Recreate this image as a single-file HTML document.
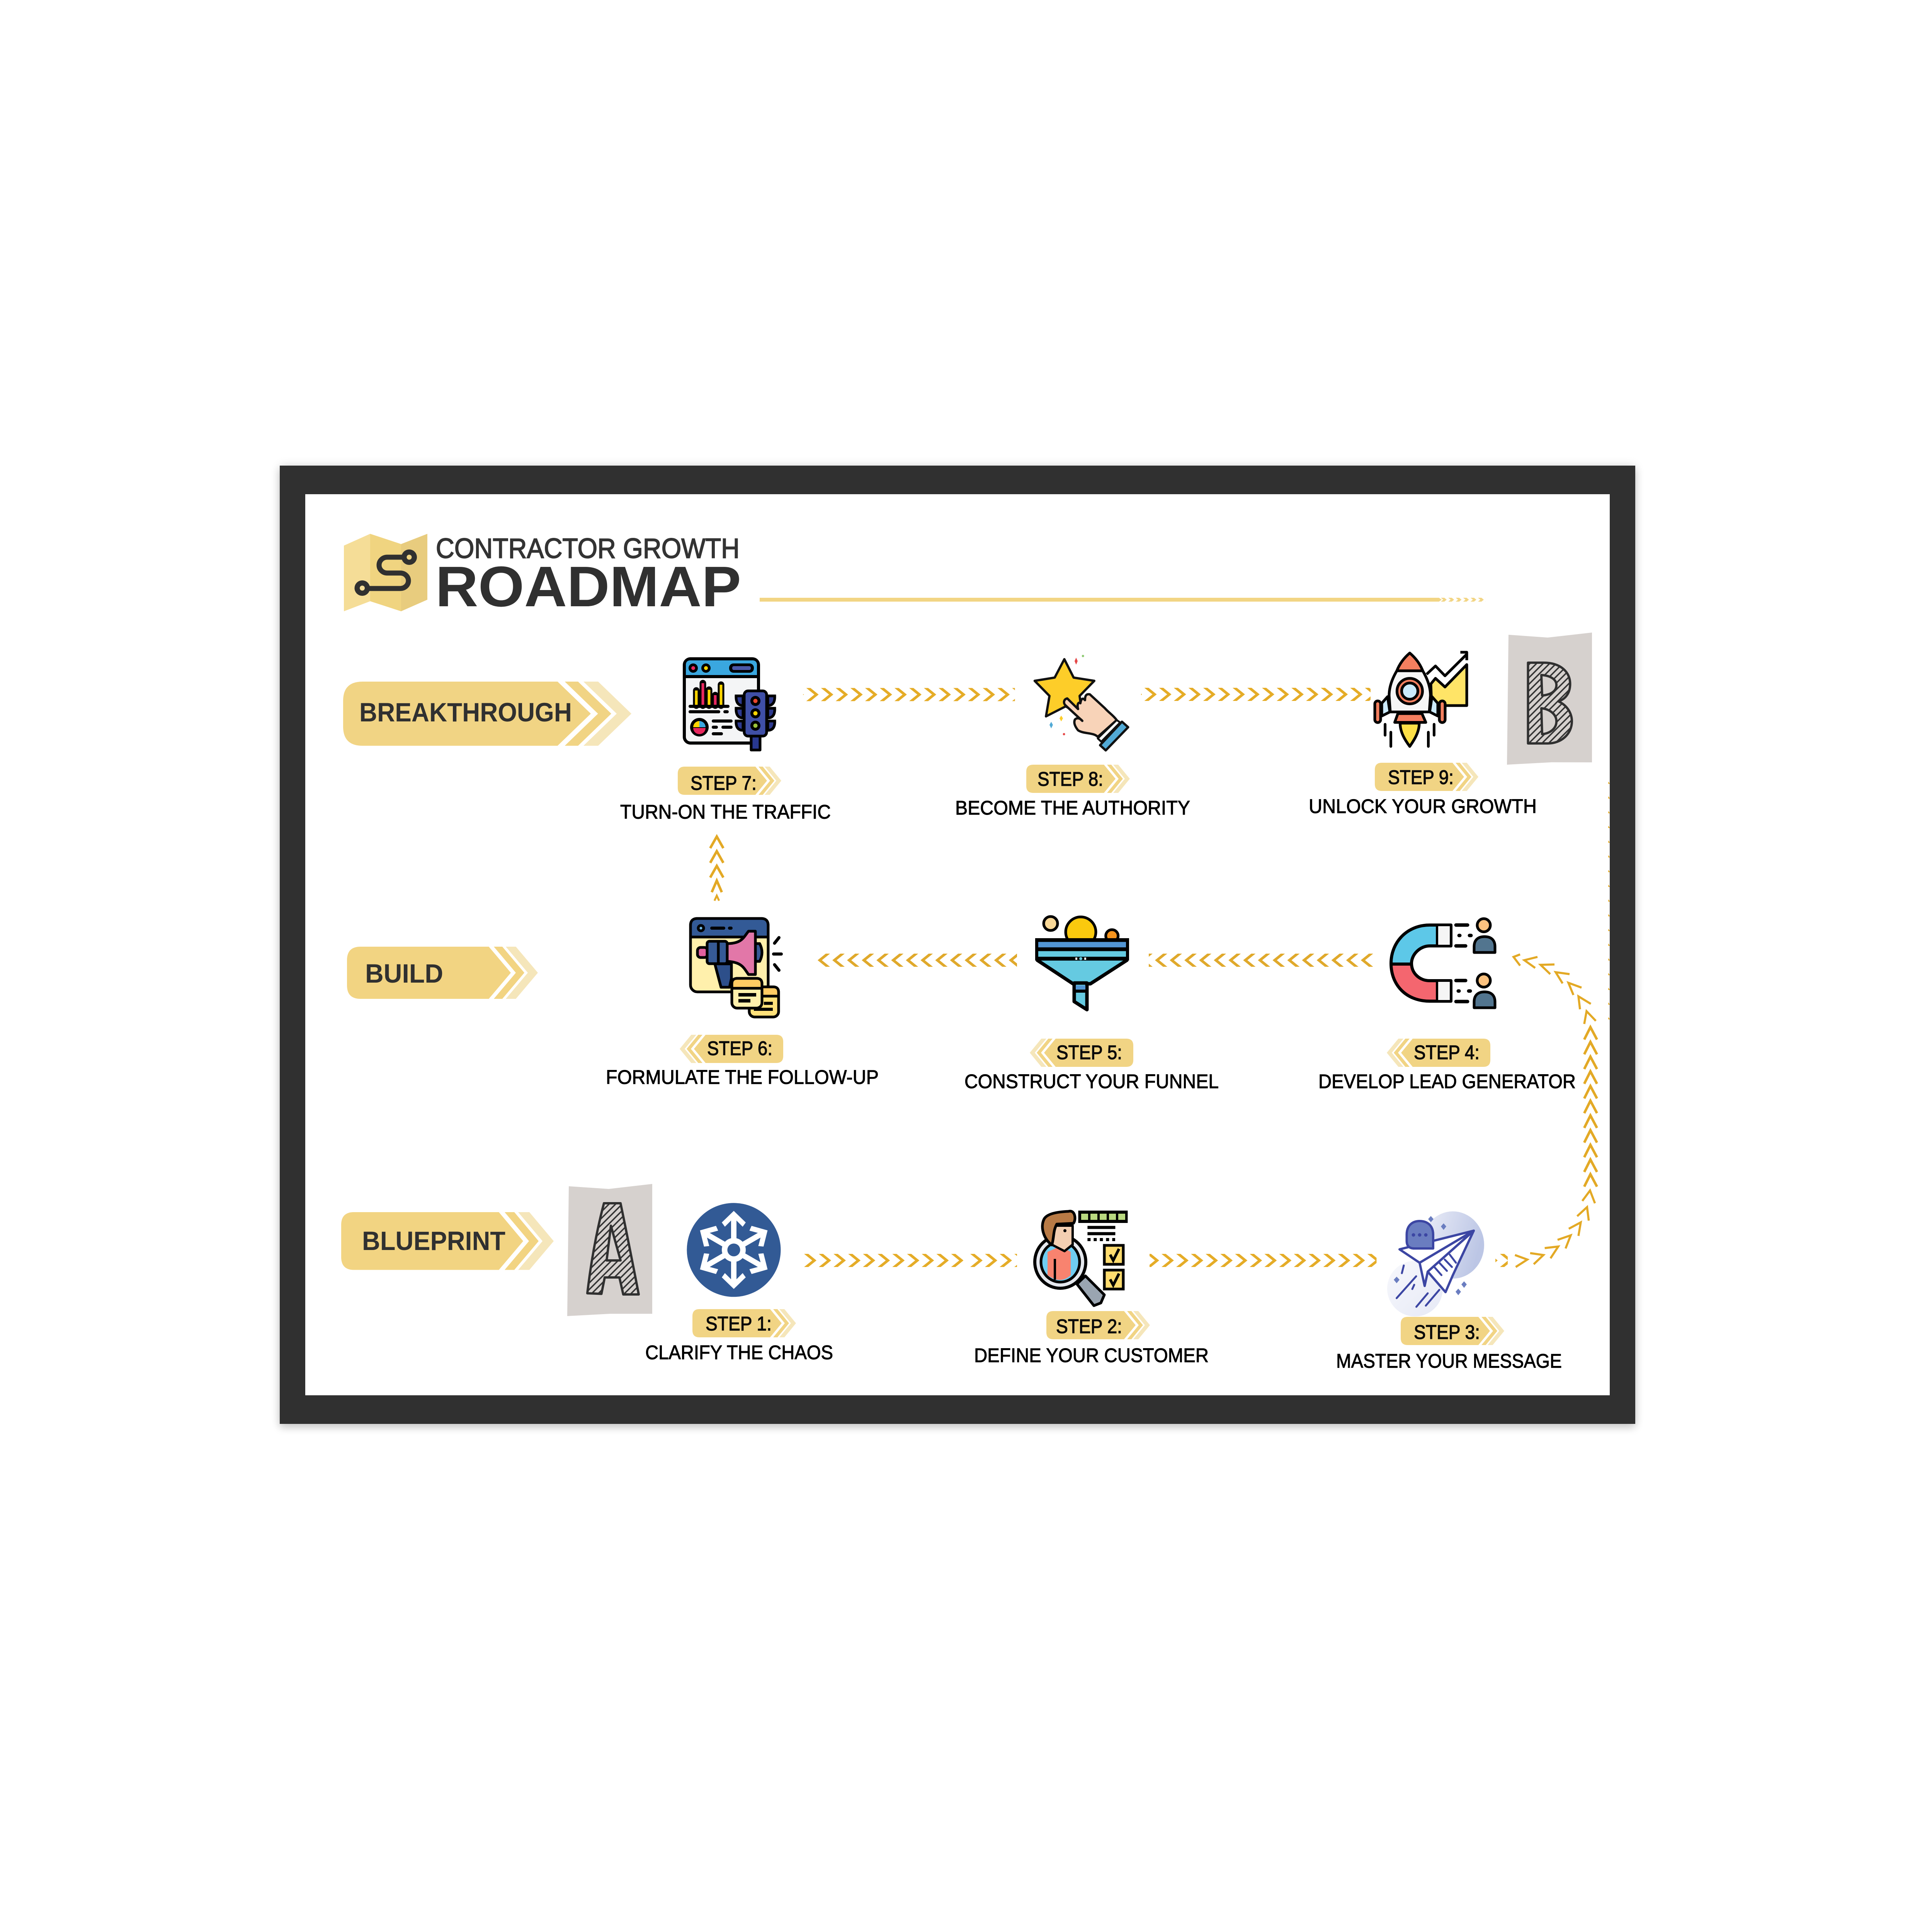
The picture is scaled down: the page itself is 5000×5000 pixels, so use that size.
<!DOCTYPE html>
<html><head><meta charset="utf-8"><title>Contractor Growth Roadmap</title>
<style>
html,body{margin:0;padding:0;background:#fff;width:5000px;height:5000px;overflow:hidden}
#frame{position:absolute;left:724px;top:1205px;width:3508px;height:2480px;background:#303030;box-shadow:0 0 24px rgba(0,0,0,.12),0 10px 20px rgba(0,0,0,.16)}
#inner{position:absolute;left:790px;top:1279px;width:3376px;height:2332px;background:#fff}
svg{position:absolute;left:0;top:0}
text{font-family:"Liberation Sans",sans-serif}
.l{font-weight:700;font-size:69px;fill:#303030}
.s{font-size:51px;fill:#0a0a0a;stroke:#0a0a0a;stroke-width:1.4}
.t{font-size:51px;fill:#000;stroke:#000;stroke-width:1.2}
</style></head><body>
<div id="frame"></div><div id="inner"></div>
<svg width="5000" height="5000" viewBox="0 0 5000 5000" xmlns="http://www.w3.org/2000/svg">
<defs>
<pattern id="pr" patternUnits="userSpaceOnUse" width="38.05" height="34"><polygon points="0,0 11,0 32,17 11,34 0,34 21,17" fill="#e5ac27"/></pattern>
<pattern id="pl" patternUnits="userSpaceOnUse" width="38.05" height="34"><polygon points="32,0 21,0 0,17 21,34 32,34 11,17" fill="#e0a92b"/></pattern>
<pattern id="pt" patternUnits="userSpaceOnUse" width="19.2" height="10"><polygon points="0,0 9,0 15,5 9,10 0,10 6,5" fill="#f2d584"/></pattern>
<pattern id="pw" patternUnits="userSpaceOnUse" width="6" height="38.1"><polygon points="2,0 6,5 6,6 2,6" fill="#e5ac27"/></pattern>
<pattern id="h" patternUnits="userSpaceOnUse" width="12" height="12" patternTransform="rotate(-45)"><rect width="12" height="12" fill="#d6d1ce"/><line x1="0" y1="6" x2="12" y2="6" stroke="#303030" stroke-width="3.6"/></pattern>
<linearGradient id="g1" x1="0" y1="0" x2="1" y2="0.3"><stop offset="0" stop-color="#eceef8"/><stop offset="1" stop-color="#bcc6e5"/></linearGradient>
<linearGradient id="g2" x1="0" y1="0" x2="1" y2="1"><stop offset="0" stop-color="#f7f8fc"/><stop offset="1" stop-color="#e6e9f6"/></linearGradient>
<g id="b">
<path d="M-183 0H0L30 36.5L0 73H-183Q-201 73 -201 55V18Q-201 0 -183 0Z" fill="#f1d484"/>
<polygon points="8,0 19,0 49,36.5 19,73 8,73 38,36.5" fill="#f1d484"/>
<polygon points="24,0 37,0 67,36.5 37,73 24,73 54,36.5" fill="#f5e6ba"/>
</g>
<g id="arm">
<polygon points="0,-101 31,-71 23,-60 7,-76 7,-25 -7,-25 -7,-76 -23,-60 -31,-71" fill="#fff"/>
</g>
</defs>

<!-- logo -->
<polygon points="890,1412 958,1381.5 958,1556 890,1582" fill="#f5dd97"/>
<polygon points="958,1381.5 1038,1408 1038,1582 958,1556" fill="#f0d480"/>
<polygon points="1038,1408 1106,1381.5 1106,1552 1038,1582" fill="#e8cc7e"/>
<path d="M1059 1442H1002a21 20.5 0 0 0 0 41H1036a21 20 0 0 1 0 40H937" fill="none" stroke="#303030" stroke-width="13"/>
<circle cx="1059" cy="1442" r="20" fill="#303030"/><circle cx="1059" cy="1442" r="6.5" fill="#f0d480"/>
<circle cx="937.5" cy="1522" r="20" fill="#303030"/><circle cx="937.5" cy="1522" r="6.5" fill="#f5dd97"/>
<text x="1128" y="1444" font-size="72" fill="#333" stroke="#333" stroke-width="2" textLength="786" lengthAdjust="spacingAndGlyphs">CONTRACTOR GROWTH</text>
<text x="1127" y="1569" font-size="148" font-weight="700" fill="#303030" textLength="791" lengthAdjust="spacingAndGlyphs">ROADMAP</text>
<rect x="1966" y="1547" width="1754" height="10" fill="#f2d584"/>
<polygon points="3720,1547 3724,1547 3731,1552 3724,1557 3720,1557" fill="#f2d584"/>
<g transform="translate(3729,1547)"><rect width="116" height="10" fill="url(#pt)"/></g>

<!-- stage labels -->
<path d="M938 1764H1443L1529 1847L1443 1930H938Q888 1930 888 1880V1814Q888 1764 938 1764Z" fill="#f1d484"/>
<polygon points="1461.6,1764 1496,1764 1582,1847 1496,1930 1461.6,1930 1547.6,1847" fill="#f1d484"/>
<polygon points="1510,1764 1548,1764 1634,1847 1548,1930 1510,1930 1596,1847" fill="#f5e6ba"/>
<text class="l" x="930" y="1867" textLength="550" lengthAdjust="spacingAndGlyphs">BREAKTHROUGH</text>

<path d="M933 2450H1265L1322 2517.5L1265 2585H933Q898 2585 898 2550V2485Q898 2450 933 2450Z" fill="#f2d482"/>
<polygon points="1278,2450 1300,2450 1357,2517.5 1300,2585 1278,2585 1335,2517.5" fill="#f2d482"/>
<polygon points="1309,2450 1335,2450 1392,2517.5 1335,2585 1309,2585 1366,2517.5" fill="#f5e6ba"/>
<text class="l" x="945" y="2543" textLength="202" lengthAdjust="spacingAndGlyphs">BUILD</text>

<path d="M916 3137H1291L1354 3212L1291 3286.5H916Q883 3286.5 883 3253V3170Q883 3137 916 3137Z" fill="#f2d482"/>
<polygon points="1306,3137 1331,3137 1394,3212 1331,3286.5 1306,3286.5 1369,3212" fill="#f2d482"/>
<polygon points="1341,3137 1370,3137 1433,3212 1370,3286.5 1341,3286.5 1404,3212" fill="#f5e6ba"/>
<text class="l" x="937" y="3235" textLength="371" lengthAdjust="spacingAndGlyphs">BLUEPRINT</text>

<!-- paper letters -->
<polygon points="1472,3070 1575.5,3077 1688,3064 1688,3400 1580,3400 1468,3406" fill="#d6d1ce"/>
<path d="M1563 3114L1606 3114Q1630 3230 1653 3350L1613 3350L1603 3306L1565 3306L1556.5 3348.5L1520 3347Q1535 3220 1563 3114ZM1581 3172L1570 3262L1606 3262Z" fill="url(#h)" fill-rule="evenodd" stroke="#303030" stroke-width="6" stroke-linejoin="round"/>
<polygon points="3904,1642.7 4005.4,1650 4120,1637 4120,1973 4015.7,1972.7 3900,1979" fill="#d6d1ce"/>
<path d="M3954.5 1715H3994.7C4040 1715 4063.5 1740 4063.5 1770C4063.5 1795 4050 1810 4033 1815C4055 1825 4068 1845 4068 1866.7C4068 1900 4040 1924 4006 1924H3954.5ZM3989 1747L3991 1800C4012 1798 4028 1790 4028 1773C4028 1757 4010 1748 3989 1747ZM3989 1833L3991 1900C4012 1898 4028 1885 4028 1867C4028 1848 4010 1835 3989 1833Z" fill="url(#h)" fill-rule="evenodd" stroke="#303030" stroke-width="6" stroke-linejoin="round"/>

<!-- step badges -->
<use href="#b" transform="translate(1955,1984)"/>
<use href="#b" transform="translate(2857,1979)"/>
<use href="#b" transform="translate(3759,1974)"/>
<use href="#b" transform="translate(1826,2678) scale(-1,1)"/>
<use href="#b" transform="translate(2732,2688) scale(-1,1)"/>
<use href="#b" transform="translate(3656,2688) scale(-1,1)"/>
<use href="#b" transform="translate(1993,3388)"/>
<use href="#b" transform="translate(2909,3393)"/>
<use href="#b" transform="translate(3826,3408)"/>

<text class="s" x="1787" y="2044" textLength="171" lengthAdjust="spacingAndGlyphs">STEP 7:</text>
<text class="s" x="2685" y="2033.5" textLength="170" lengthAdjust="spacingAndGlyphs">STEP 8:</text>
<text class="s" x="3592" y="2029" textLength="170" lengthAdjust="spacingAndGlyphs">STEP 9:</text>
<text class="s" x="1830" y="2730.5" textLength="169" lengthAdjust="spacingAndGlyphs">STEP 6:</text>
<text class="s" x="2734" y="2741" textLength="170" lengthAdjust="spacingAndGlyphs">STEP 5:</text>
<text class="s" x="3659" y="2741" textLength="170" lengthAdjust="spacingAndGlyphs">STEP 4:</text>
<text class="s" x="1826" y="3443" textLength="171" lengthAdjust="spacingAndGlyphs">STEP 1:</text>
<text class="s" x="2733" y="3450" textLength="171" lengthAdjust="spacingAndGlyphs">STEP 2:</text>
<text class="s" x="3659" y="3465" textLength="171" lengthAdjust="spacingAndGlyphs">STEP 3:</text>

<text class="t" x="1605" y="2118.5" textLength="545" lengthAdjust="spacingAndGlyphs">TURN-ON THE TRAFFIC</text>
<text class="t" x="2472" y="2108" textLength="608" lengthAdjust="spacingAndGlyphs">BECOME THE AUTHORITY</text>
<text class="t" x="3387" y="2104" textLength="590" lengthAdjust="spacingAndGlyphs">UNLOCK YOUR GROWTH</text>
<text class="t" x="1568" y="2805" textLength="706" lengthAdjust="spacingAndGlyphs">FORMULATE THE FOLLOW-UP</text>
<text class="t" x="2496" y="2816" textLength="658" lengthAdjust="spacingAndGlyphs">CONSTRUCT YOUR FUNNEL</text>
<text class="t" x="3412" y="2816" textLength="666" lengthAdjust="spacingAndGlyphs">DEVELOP LEAD GENERATOR</text>
<text class="t" x="1670" y="3517.5" textLength="486" lengthAdjust="spacingAndGlyphs">CLARIFY THE CHAOS</text>
<text class="t" x="2521" y="3525" textLength="607" lengthAdjust="spacingAndGlyphs">DEFINE YOUR CUSTOMER</text>
<text class="t" x="3458" y="3539.5" textLength="584" lengthAdjust="spacingAndGlyphs">MASTER YOUR MESSAGE</text>

<!-- chevrons straight -->
<g transform="translate(2086.6,1780.5)"><rect x="-8" width="548" height="34" fill="url(#pr)"/></g>
<g transform="translate(2961.6,1780)"><rect x="-8.6" width="594" height="34" fill="url(#pr)"/></g>
<g transform="translate(2116,2468)"><rect width="516" height="34" fill="url(#pl)"/></g>
<g transform="translate(2989,2468)"><rect x="-16" width="581.5" height="34" fill="url(#pl)"/></g>
<g transform="translate(2081,3245)"><rect width="412" height="34" fill="url(#pr)"/></g>
<g transform="translate(2511,3245)"><rect width="121" height="34" fill="url(#pr)"/></g>
<g transform="translate(3006,3245)"><rect x="-31" width="587.5" height="34" fill="url(#pr)"/></g>
<g transform="translate(3882,3245)"><rect x="-12" width="32" height="34" fill="url(#pr)"/></g>
<g transform="translate(4160,2479.7)"><rect y="-484" width="6" height="652" fill="url(#pw)"/></g>

<!-- chevrons vertical + curve -->
<g fill="none" stroke="#e3a925" stroke-width="6.5">
<path d="M1838 2195L1855 2165L1872 2195M1838 2233L1855 2203L1872 2233M1838 2271L1855 2241L1872 2271M1842 2309L1855 2279L1868 2309"/>
<path d="M1849 2331L1855 2318L1861 2331" stroke-width="5"/>
<path d="M3934 2470L3917 2476.5L3934 2499M3979 2476.5L3945 2485L3973 2505M4023 2496L3987 2497L4012 2521M4062 2521L4026 2516L4044 2545M4093 2556L4059 2543.5L4072 2575M4117 2598L4085 2578.5L4089 2612M4130 2642L4106 2617L4100 2650" stroke-width="5.5"/>
<path d="M4100 2690.3L4116 2658.3L4133 2690.3M4100 2728.6L4116 2696.6L4133 2728.6M4100 2766.7L4116 2734.7L4133 2766.7M4100 2804.8L4116 2772.8L4133 2804.8M4100 2842.8L4116 2810.8L4133 2842.8M4100 2880.9L4116 2848.9L4133 2880.9M4100 2919L4116 2887L4133 2919M4100 2957L4116 2925L4133 2957M4100 2995L4116 2963L4133 2995M4100 3033L4116 3001L4133 3033M4100 3071L4116 3039L4133 3071"/>
<path d="M4095 3108L4115 3081L4127.7 3114M4081.7 3147.5L4107.3 3124L4111.7 3159M4060 3180L4091 3163.4L4085 3198.5M4031 3208.7L4065 3197L4051.7 3231M3997.7 3230L4032.7 3226L4012.7 3256.5M3960 3243L3994.3 3248L3969.3 3271.8M3920.7 3248L3952.7 3259.7L3922.7 3279" stroke-width="5.5"/>
</g>

<!-- ICON 7 -->
<g stroke-linecap="round">
<rect x="1771" y="1705" width="192" height="218" rx="16" fill="#f4f5f6" stroke="#000" stroke-width="8"/>
<path d="M1775 1749V1721Q1775 1709 1787 1709H1947Q1959 1709 1959 1721V1749Z" fill="#3aa7df"/>
<line x1="1771" y1="1751" x2="1963" y2="1751" stroke="#000" stroke-width="8"/>
<circle cx="1794" cy="1729" r="12" fill="#000"/><circle cx="1794" cy="1729" r="5" fill="#e8285f"/>
<circle cx="1827" cy="1729" r="12" fill="#000"/><circle cx="1827" cy="1729" r="5" fill="#ffd400"/>
<rect x="1887" y="1717" width="64" height="24" rx="11" fill="#000"/><rect x="1895" y="1724" width="48" height="10" rx="4" fill="#4a58a8"/>
<g fill="none" stroke="#000" stroke-width="17"><path d="M1802 1826V1787M1819 1826V1768M1835 1826V1785M1851 1826V1799M1866 1826V1772"/></g>
<g fill="none" stroke-width="7" stroke-linecap="butt"><path d="M1802 1824V1787" stroke="#ffd400"/><path d="M1819 1824V1768" stroke="#e8285f"/><path d="M1835 1824V1785" stroke="#ffd400"/><path d="M1851 1824V1799" stroke="#e8285f"/><path d="M1866 1824V1772" stroke="#ffd400"/></g>
<g fill="none" stroke="#000" stroke-width="8"><path d="M1786 1828H1884M1786 1842H1860M1876 1842H1882M1846 1866H1892M1846 1882H1854M1871 1882H1892M1846 1899H1867"/></g>
<circle cx="1810" cy="1882" r="24" fill="#000"/>
<path d="M1810 1882V1866A16 16 0 0 0 1794 1882Z" fill="#ffd400"/><path d="M1810 1882V1866A16 16 0 0 1 1826 1882Z" fill="#3aa7df"/><path d="M1794 1884A16 16 0 0 0 1826 1884Z" fill="#e8285f"/>
<g fill="#2e3a8f" stroke="#000" stroke-width="7"><path d="M1923 1801H1905Q1904 1826 1923 1826Z"/><path d="M1923 1833H1905Q1904 1858 1923 1858Z"/><path d="M1923 1866H1905Q1904 1890 1923 1890Z"/><path d="M1987 1801H2005Q2006 1826 1987 1826Z"/><path d="M1987 1833H2005Q2006 1858 1987 1858Z"/><path d="M1987 1866H2005Q2006 1890 1987 1890Z"/></g>
<rect x="1944" y="1905" width="23" height="36" fill="#28388f" stroke="#000" stroke-width="7" stroke-linejoin="round"/>
<rect x="1926" y="1788" width="58" height="117" rx="10" fill="#3f4fa6" stroke="#000" stroke-width="7"/>
<circle cx="1955" cy="1814" r="13" fill="#000"/><circle cx="1955" cy="1814" r="5.5" fill="#e8452c"/>
<circle cx="1955" cy="1846" r="13" fill="#000"/><circle cx="1955" cy="1846" r="5.5" fill="#ffd400"/>
<circle cx="1955" cy="1878" r="13" fill="#000"/><circle cx="1955" cy="1878" r="5.5" fill="#9cc43b"/>
</g>

<!-- ICON 8 -->
<polygon points="2754.5,1706 2778.6,1753.6 2832,1762 2794,1801 2801,1853 2758,1828 2707,1854 2716,1801 2677.7,1762 2729.5,1753.6" fill="#fdcd29" stroke="#111" stroke-width="6" stroke-linejoin="round"/>
<path d="M2762 1807.5C2752 1810 2752 1820 2757 1825L2801 1865.6C2795 1858 2787 1857 2782 1862C2778 1870 2782 1880 2790 1890C2805 1900 2830 1895 2841 1907L2890 1863.5C2880 1850 2870 1845 2859 1832.4L2820.5 1797C2810 1795 2808 1802 2808 1812C2802 1805 2798 1808 2796 1820C2790 1815 2787 1825 2790 1835Z" fill="#f8d3b8" stroke="#111" stroke-width="6" stroke-linejoin="round"/>
<polygon points="2890,1863.5 2899,1869.7 2850,1919.5 2841,1911" fill="#fff" stroke="#111" stroke-width="5" stroke-linejoin="round"/>
<polygon points="2903.6,1867.7 2919.6,1882 2861.6,1942 2847,1928.6" fill="#52aad6" stroke="#111" stroke-width="6" stroke-linejoin="round"/>
<path d="M2785 1702L2789 1711L2785 1720L2781 1711Z" fill="#e54848"/><circle cx="2802.7" cy="1697.7" r="3" fill="#8cc970"/>
<path d="M2746.4 1852L2751 1859L2746.4 1867L2742 1859Z" fill="#fdcd29"/><path d="M2720.5 1868L2725 1876L2720.5 1885L2716 1876Z" fill="#52aad6"/><circle cx="2753.6" cy="1900" r="3" fill="#e54848"/>

<!-- ICON 9 -->
<g stroke="#000" stroke-width="7" stroke-linejoin="round">
<polygon points="3703,1770 3715,1755.5 3739.6,1778 3796,1720 3796,1826 3742,1826 3705,1826" fill="#ffe467"/>
<polyline points="3692,1745 3715,1723.5 3739.6,1749 3796,1693" fill="none"/>
<polyline points="3779.4,1688 3796,1688 3796,1708.6" fill="none"/>
<polygon points="3591,1803 3576,1820 3576,1853 3597,1842.5" fill="#cbeafb"/>
<polygon points="3706,1803 3721,1820 3721,1853 3700,1842.5" fill="#cbeafb"/>
<rect x="3558" y="1814" width="15" height="56" rx="7.5" fill="#f47f5f"/>
<rect x="3725" y="1814" width="15" height="56" rx="7.5" fill="#f47f5f"/>
<path d="M3615 1736Q3595 1770 3595 1800L3598 1842.5H3699L3702 1800Q3702 1770 3682 1736Z" fill="#f6f6f6"/>
<path d="M3648.4 1690Q3625 1710 3615 1736H3682Q3672 1710 3648.4 1690Z" fill="#f47f5f"/>
<circle cx="3648.4" cy="1788.6" r="33" fill="#f47f5f"/><circle cx="3648.4" cy="1788.6" r="21" fill="#cbeafb"/>
<polygon points="3617.7,1846.7 3680,1846.7 3690,1869.5 3609.5,1869.5" fill="#f47f5f"/>
<path d="M3623.5 1871.5H3673C3673 1895 3660 1915 3648.4 1931.7C3636 1915 3623.5 1895 3623.5 1871.5Z" fill="#fde047"/>
<path d="M3584.6 1874.5V1902.7M3599.5 1895V1931.7M3711.4 1874.5V1902.7M3696.5 1895V1931.7" fill="none" stroke-linecap="round"/>
</g>

<!-- ICON 6 -->
<g stroke="#000" stroke-width="7" stroke-linejoin="round">
<rect x="1787" y="2377" width="201" height="190" rx="18" fill="#fff0ac"/>
<path d="M1787 2425V2395Q1787 2377 1805 2377H1970Q1988 2377 1988 2395V2425Z" fill="#335a96"/>
<circle cx="1814" cy="2402" r="7" fill="#6fb9e6"/>
<path d="M1842 2402H1873M1888 2402H1892" fill="none" stroke-width="8" stroke-linecap="round"/>
<rect x="1805" y="2452" width="26" height="26" rx="8" fill="#e2609f"/>
<path d="M1850 2494.5L1866 2555H1888L1893 2532V2494.5Z" fill="#2d4f8a"/>
<rect x="1830" y="2436" width="52" height="58" rx="6" fill="#365a96"/>
<path d="M1955 2442H1966Q1978 2465 1966 2488H1955Z" fill="#365a96"/>
<path d="M1882 2442C1920 2442 1925 2425 1937 2410H1955V2522H1937C1925 2505 1920 2490 1882 2488Z" fill="#e277a8"/>
<path d="M1859 2436V2494" fill="none"/>
<path d="M2016 2426.5L2004.5 2441M2002 2469H2022M2004.5 2496.6L2016 2511" fill="none" stroke-width="8" stroke-linecap="round"/>
<rect x="1939" y="2554" width="76" height="78" rx="14" fill="#ffe17a"/>
<path d="M1939 2578V2568Q1939 2554 1953 2554H2001Q2015 2554 2015 2568V2578Z" fill="#ffcb63"/>
<path d="M1977 2596.6H2000M1951 2612H2000" fill="none" stroke-width="8"/>
<rect x="1894" y="2532" width="78" height="77" rx="14" fill="#fff0ac"/>
<path d="M1894 2557.6V2546Q1894 2532 1908 2532H1958Q1972 2532 1972 2546V2557.6Z" fill="#ffcb63"/>
<path d="M1911 2574.5H1957M1911 2590H1942" fill="none" stroke-width="9"/>
</g>

<!-- ICON 5 -->
<circle cx="2719" cy="2390" r="18" fill="#f9d897" stroke="#000" stroke-width="7"/>
<circle cx="2797" cy="2412" r="39" fill="#fac90e" stroke="#000" stroke-width="7"/>
<circle cx="2877.7" cy="2422" r="16" fill="#f7941d" stroke="#000" stroke-width="7"/>
<g stroke="#000" stroke-width="9" stroke-linejoin="round">
<rect x="2679" y="2428" width="243" height="58" fill="#000" stroke-width="0"/>
<rect x="2687" y="2437.7" width="227" height="14" fill="#5295d4" stroke="none"/>
<rect x="2687" y="2461.5" width="227" height="14.5" fill="#65cae1" stroke="none"/>
<polygon points="2692,2486 2908,2486 2818,2544 2780,2544" fill="#65cae1" stroke="none"/>
<path d="M2683 2484L2777 2546H2822L2918 2484" fill="none"/>
<path d="M2780 2544V2592L2813 2613V2544Z" fill="#65cae1"/>
<rect x="2784" y="2550.6" width="25" height="10" fill="#5295d4" stroke="none"/>
<line x1="2780" y1="2565" x2="2813" y2="2565" stroke-width="8"/>
</g>
<circle cx="2797" cy="2481" r="4" fill="#65cae1"/>
<rect x="2783" y="2478" width="5" height="6" fill="#fff"/><rect x="2806" y="2478" width="5" height="6" fill="#fff"/>

<!-- ICON 4 -->
<path d="M3755 2394H3700C3640 2394 3600 2440 3600 2495H3653C3653 2470 3675 2448 3700 2448H3755Z" fill="#5dc8e8"/>
<path d="M3600 2495C3600 2550 3640 2591 3700 2591H3755V2538H3700C3675 2538 3653 2520 3653 2495Z" fill="#f4666f"/>
<path d="M3755 2394H3700C3640 2394 3600 2440 3600 2493C3600 2550 3640 2591 3700 2591H3755V2538H3700C3675 2538 3653 2520 3653 2493C3653 2470 3675 2448 3700 2448H3755Z" fill="none" stroke="#000" stroke-width="8" stroke-linejoin="round"/>
<line x1="3600" y1="2495" x2="3653" y2="2495" stroke="#000" stroke-width="8"/>
<rect x="3719" y="2394" width="36" height="54" fill="#f5f5f5" stroke="#000" stroke-width="6"/>
<rect x="3719" y="2538" width="36" height="53" fill="#f5f5f5" stroke="#000" stroke-width="6"/>
<path d="M3768 2394H3798M3776 2421H3778M3803 2421H3807M3768 2448H3793M3768 2537.6H3793M3774 2564.7H3776M3801 2564.7H3805M3768 2592H3798" stroke="#000" stroke-width="9" stroke-linecap="round" fill="none"/>
<g stroke="#000" stroke-width="7">
<circle cx="3840" cy="2394.5" r="17" fill="#fcc27f"/>
<path d="M3815 2465V2450C3815 2432 3826 2424 3842 2424C3858 2424 3869 2432 3869 2450V2465Z" fill="#52758f" stroke-linejoin="round"/>
<circle cx="3840" cy="2537.6" r="17" fill="#fcc27f"/>
<path d="M3815 2608V2593C3815 2575 3826 2567 3842 2567C3858 2567 3869 2575 3869 2593V2608Z" fill="#52758f" stroke-linejoin="round"/>
</g>

<!-- ICON 1 -->
<circle cx="1899" cy="3234.8" r="121.5" fill="#325a95"/>
<g transform="translate(1899,3234.8)">
<use href="#arm"/><use href="#arm" transform="rotate(60)"/><use href="#arm" transform="rotate(120)"/><use href="#arm" transform="rotate(180)"/><use href="#arm" transform="rotate(240)"/><use href="#arm" transform="rotate(300)"/>
<circle r="31" fill="#fff"/><circle r="16.6" fill="#325a95"/>
</g>

<!-- ICON 2 -->
<polygon points="2787,3323 2809,3302 2858,3351 2849,3372 2831,3379" fill="#9aa5b1" stroke="#000" stroke-width="7" stroke-linejoin="round"/>
<ellipse cx="2744" cy="3266" rx="66" ry="68" fill="#e5e8ee" stroke="#000" stroke-width="8"/>
<ellipse cx="2744" cy="3266" rx="50" ry="52" fill="#6fcdf2" stroke="#000" stroke-width="7"/>
<path d="M2711 3240L2744 3225L2771 3240L2771 3300Q2744 3325 2711 3300Z" fill="#f8836f"/>
<path d="M2730 3258L2730 3312" stroke="#000" stroke-width="6"/>
<path d="M2722 3172H2776L2776 3221L2755 3238L2722 3221Z" fill="#f3cfb2" stroke="#000" stroke-width="6" stroke-linejoin="round"/>
<path d="M2765 3135C2782 3130 2786 3155 2778 3166L2735 3168C2725 3185 2728 3205 2722 3222C2700 3205 2692 3175 2702 3155C2710 3140 2740 3136 2765 3135Z" fill="#b87a45" stroke="#000" stroke-width="7" stroke-linejoin="round"/>
<circle cx="2756" cy="3185" r="4" fill="#000"/>
<rect x="2790.5" y="3133" width="128" height="32" fill="#000"/>
<g fill="#b9d97f"><rect x="2798" y="3141" width="18" height="16"/><rect x="2822" y="3141" width="18" height="16"/><rect x="2846" y="3141" width="18" height="16"/><rect x="2870" y="3141" width="18" height="16"/><rect x="2894" y="3141" width="18" height="16"/></g>
<rect x="2814.4" y="3172.6" width="72" height="8" fill="#000"/><rect x="2814.4" y="3188.7" width="72" height="8" fill="#000"/>
<path d="M2814.4 3208H2886" stroke="#000" stroke-width="8" stroke-dasharray="8 8"/>
<rect x="2858" y="3223" width="49" height="49" fill="#ffdc6e" stroke="#000" stroke-width="7"/>
<rect x="2858" y="3287" width="49" height="49" fill="#ffdc6e" stroke="#000" stroke-width="7"/>
<path d="M2873 3247L2881 3262L2896 3232M2873 3311L2881 3326L2896 3296" fill="none" stroke="#000" stroke-width="7"/>

<!-- ICON 3 -->
<ellipse cx="3760" cy="3222" rx="81" ry="87" fill="url(#g1)"/>
<ellipse cx="3662" cy="3335" rx="72" ry="72" fill="url(#g2)"/>
<g stroke="#3c46a3" stroke-width="6" stroke-linejoin="round" stroke-linecap="round">
<polygon points="3814,3185 3622,3233.3 3674,3268" fill="#fff"/>
<polygon points="3814,3185 3674,3268 3687,3328 3695,3291" fill="#fff"/>
<polygon points="3814,3185 3695,3291 3741,3344 3760,3300" fill="#fff"/>
<path d="M3814 3185L3760 3300M3712 3279L3730.5 3300M3725 3268L3744.6 3289M3739 3259.6L3757.6 3279M3752 3247L3768 3268M3665 3303L3614.5 3359.6M3695 3347L3665.5 3382M3725 3338L3690 3379M3633 3275L3628 3295M3660 3325L3655 3336" fill="none" stroke-width="5"/>
<path d="M3640.5 3195C3640.5 3172 3655 3160 3674 3160C3694 3160 3709 3172 3709 3195V3231H3690L3660 3231Q3640.5 3231 3640.5 3211Z" fill="#6a7dc0"/>
</g>
<g fill="#3c46a3"><circle cx="3658" cy="3196" r="4.5"/><circle cx="3674" cy="3196" r="4.5"/><circle cx="3690" cy="3196" r="4.5"/></g>
<g fill="#6a7dc0"><path d="M3703 3147L3710 3155L3703 3163L3696 3155Z"/><path d="M3736 3166L3743 3174L3736 3183L3729 3174Z"/><path d="M3614.5 3304L3622 3312L3614.5 3321L3607 3312Z"/><path d="M3789 3316L3796 3324L3789 3333L3782 3324Z"/><path d="M3774 3335L3781 3343L3774 3352L3767 3343Z"/></g>
</svg>
</body></html>
